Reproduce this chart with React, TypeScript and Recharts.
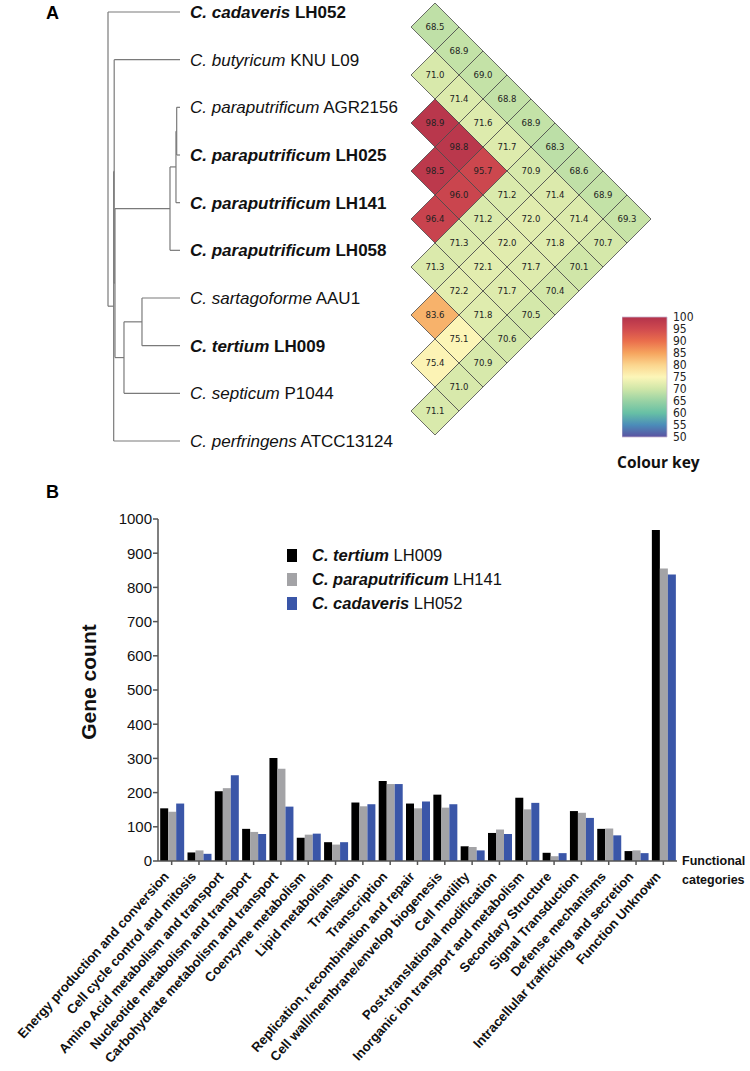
import React from "react";
import {
  ComposedChart,
  ScatterChart,
  Scatter,
  BarChart,
  Bar,
  XAxis,
  YAxis,
  ReferenceLine,
  Legend,
} from "recharts";

const FONT = "Arial, 'Liberation Sans', sans-serif";
const NARROW = "'Liberation Sans Narrow', 'DejaVu Sans Condensed', sans-serif";

// ---- panel A: species, tree, ANI ----
const speciesGenus = [
  "C. cadaveris",
  "C. butyricum",
  "C. paraputrificum",
  "C. paraputrificum",
  "C. paraputrificum",
  "C. paraputrificum",
  "C. sartagoforme",
  "C. tertium",
  "C. septicum",
  "C. perfringens",
];
const speciesStrain = ["LH052", "KNU L09", "AGR2156", "LH025", "LH141", "LH058", "AAU1", "LH009", "P1044", "ATCC13124"];
const speciesBold = [true, false, false, true, true, true, false, true, false, false];

// internal nodes: [childA, childB, depth from root (0) to tips (1)]; numbers are leaf indices
const treeNodes: [string | number, string | number, number][] = [
  [2, 3, 0.954], // P1
  ["P1", 4, 0.944], // P2
  ["P2", 5, 0.861], // P3
  [6, 7, 0.472], // T1
  ["T1", 8, 0.222], // T2
  ["P3", "T2", 0.097], // N3
  [1, "N3", 0.086], // N2
  ["N2", 9, 0.079], // N1
  [0, "N1", 0], // root
];
const treeNodeIds = ["P1", "P2", "P3", "T1", "T2", "N3", "N2", "N1", "root"];

// ANI, upper triangle: aniRows[i][k] is species i vs species i+k+1
const aniRows = [
  [68.5, 68.9, 69.0, 68.8, 68.9, 68.3, 68.6, 68.9, 69.3],
  [71.0, 71.4, 71.6, 71.7, 70.9, 71.4, 71.4, 70.7],
  [98.9, 98.8, 95.7, 71.2, 72.0, 71.8, 70.1],
  [98.5, 96.0, 71.2, 72.0, 71.7, 70.4],
  [96.4, 71.3, 72.1, 71.7, 70.5],
  [71.3, 72.2, 71.8, 70.6],
  [83.6, 75.1, 70.9],
  [75.4, 71.0],
  [71.1],
];

const keyValues = [100, 95, 90, 85, 80, 75, 70, 65, 60, 55, 50];
const keyColors = ["#b3324b", "#d04a4f", "#ea6e4c", "#f6a45e", "#fbd58e", "#fcf6b8", "#cfe6a8", "#98d2a4", "#67c0a5", "#4b8cb9", "#5b52a1"];

// ---- panel B: COG categories ----
const categories = [
  "Energy production and conversion",
  "Cell cycle control and mitosis",
  "Amino Acid metabolism and transport",
  "Nucleotide metabolism and transport",
  "Carbohydrate metabolism and transport",
  "Coenzyme metabolism",
  "Lipid metabolism",
  "Tranlsation",
  "Transcription",
  "Replication, recombination and repair",
  "Cell wall/membrane/envelop biogenesis",
  "Cell motility",
  "Post-translational modification",
  "Inorganic ion transport and metabolism",
  "Secondary Structure",
  "Signal Transduction",
  "Defense mechanisms",
  "Intracellular trafficking and secretion",
  "Function Unknown",
];
const tertium = [154, 25, 204, 94, 301, 68, 55, 171, 234, 168, 194, 43, 82, 185, 24, 146, 94, 29, 968];
const paraputrificum = [144, 31, 213, 85, 270, 77, 48, 160, 225, 154, 156, 41, 92, 151, 14, 141, 95, 31, 855];
const cadaveris = [168, 21, 251, 79, 159, 80, 55, 166, 225, 174, 166, 31, 79, 170, 23, 126, 75, 23, 838];
const geneTicks = [0, 100, 200, 300, 400, 500, 600, 700, 800, 900, 1000];

const barSeries = [
  { key: "tertium", genus: "C. tertium", strain: "LH009", color: "#000000" },
  { key: "paraputrificum", genus: "C. paraputrificum", strain: "LH141", color: "#a3a3a6" },
  { key: "cadaveris", genus: "C. cadaveris", strain: "LH052", color: "#3a56a8" },
];

const barData = categories.map((name, i) => ({
  name,
  tertium: tertium[i],
  paraputrificum: paraputrificum[i],
  cadaveris: cadaveris[i],
}));

function hexToRgb(h: string) {
  const n = parseInt(h.slice(1), 16);
  return [(n >> 16) & 255, (n >> 8) & 255, n & 255];
}

function aniColor(v: number) {
  for (let k = 0; k < keyValues.length - 1; k++) {
    const hi = keyValues[k];
    const lo = keyValues[k + 1];
    if (v <= hi && v >= lo) {
      const t = (hi - v) / (hi - lo);
      const a = hexToRgb(keyColors[k]);
      const b = hexToRgb(keyColors[k + 1]);
      const c = a.map((x, j) => Math.round(x + (b[j] - x) * t));
      return `rgb(${c[0]},${c[1]},${c[2]})`;
    }
  }
  return keyColors[0];
}

// heatmap cells: d = distance between species, s = i + j (diagonal position)
const heatCells = aniRows.flatMap((row, i) =>
  row.map((v, k) => ({ d: k + 1, s: 2 * i + k + 1, v }))
);

// dendrogram segments from the node list
function leafY(ref: string | number, ys: Record<string, number>) {
  return typeof ref === "number" ? ref : ys[ref];
}
function buildTree() {
  const ys: Record<string, number> = {};
  const depths: Record<string, number> = {};
  const segs: { x1: number; y1: number; x2: number; y2: number }[] = [];
  treeNodes.forEach(([a, b, depth], n) => {
    const ya = leafY(a, ys);
    const yb = leafY(b, ys);
    const id = treeNodeIds[n];
    ys[id] = (ya + yb) / 2;
    depths[id] = depth;
    segs.push({ x1: depth, y1: ya, x2: depth, y2: yb });
    [a, b].forEach((c) => {
      const cd = typeof c === "number" ? 1 : depths[c];
      const cy = leafY(c, ys);
      segs.push({ x1: depth, y1: cy, x2: cd, y2: cy });
    });
  });
  return segs;
}
const treeSegs = buildTree();
const leafPoints = speciesStrain.map((_, k) => ({ x: 1, y: k }));

const HEAT_W = 260;
const HEAT_M = { top: 27, right: 33, bottom: 39, left: 35 };
const HEAT_UNIT = (HEAT_W - HEAT_M.left - HEAT_M.right) / 8;

function SpeciesTick(props: any) {
  const { x, y, payload } = props;
  const k = payload.value;
  const b = speciesBold[k];
  return (
    <text x={x} y={y} dy="0.36em" fontSize={17} fontFamily={FONT} fill="#111">
      <tspan fontStyle="italic" fontWeight={b ? "bold" : "normal"}>{speciesGenus[k]}</tspan>
      <tspan fontWeight={b ? "bold" : "normal"}> {speciesStrain[k]}</tspan>
    </text>
  );
}

function Diamond(props: any) {
  const { cx, cy, payload } = props;
  const u = HEAT_UNIT;
  const pts = `${cx - u},${cy} ${cx},${cy - u} ${cx + u},${cy} ${cx},${cy + u}`;
  return (
    <g>
      <polygon points={pts} fill={aniColor(payload.v)} stroke="#4a4a4a" strokeWidth={0.8} />
      <text x={cx} y={cy} dy="0.35em" textAnchor="middle" fontSize={9.5} fontFamily={NARROW} fill="#222">
        {payload.v.toFixed(1)}
      </text>
    </g>
  );
}

function CategoryTick(props: any) {
  const { x, y, payload } = props;
  return (
    <g transform={`translate(${x - 2},${y + 10})`}>
      <text textAnchor="end" transform="rotate(-48)" fontSize={13.2} fontWeight="bold" fontFamily={FONT} fill="#111">
        {payload.value}
      </text>
    </g>
  );
}

function BarLegend() {
  return (
    <div style={{ fontFamily: FONT, fontSize: 16.5, color: "#111" }}>
      {barSeries.map((s) => (
        <div key={s.key} style={{ display: "flex", alignItems: "center", height: 24 }}>
          <span style={{ width: 10, height: 13, background: s.color, display: "inline-block", marginRight: 15 }} />
          <span>
            <b><i>{s.genus}</i></b> {s.strain}
          </span>
        </div>
      ))}
    </div>
  );
}

export default function App() {
  return (
    <div style={{ position: "absolute", left: 0, top: 0, width: 750, height: 1071, background: "#fff", fontFamily: FONT }}>
      <div style={{ position: "absolute", left: 46, top: 3, fontSize: 18, fontWeight: "bold" }}>A</div>
      <div style={{ position: "absolute", left: 46, top: 482, fontSize: 18, fontWeight: "bold" }}>B</div>

      <div style={{ position: "absolute", left: 100, top: 0 }}>
        <ComposedChart width={420} height={480} margin={{ top: 12, right: 0, bottom: 39, left: 8 }}>
          <XAxis type="number" dataKey="x" domain={[0, 1]} hide />
          <YAxis
            type="number"
            dataKey="y"
            orientation="right"
            width={340}
            domain={[0, 9]}
            reversed
            ticks={speciesStrain.map((_, k) => k)}
            axisLine={false}
            tickLine={false}
            tickMargin={4}
            tick={<SpeciesTick />}
            interval={0}
          />
          <Scatter data={leafPoints} fill="none" shape={() => <g />} isAnimationActive={false} />
          {treeSegs.map((s, i) => (
            <ReferenceLine
              key={i}
              segment={[
                { x: s.x1, y: s.y1 },
                { x: s.x2, y: s.y2 },
              ]}
              stroke="#7a7a7a"
              strokeWidth={1.2}
              ifOverflow="visible"
            />
          ))}
        </ComposedChart>
      </div>

      <div style={{ position: "absolute", left: 400, top: 0 }}>
        <ScatterChart width={HEAT_W} height={450} margin={HEAT_M}>
          <XAxis type="number" dataKey="d" domain={[1, 9]} hide />
          <YAxis type="number" dataKey="s" domain={[1, 17]} reversed hide />
          <Scatter data={heatCells} shape={<Diamond />} isAnimationActive={false} />
        </ScatterChart>
      </div>

      <div style={{ position: "absolute", left: 622, top: 305 }}>
        <BarChart width={80} height={144} data={[{ name: "key", range: [50, 100] }]} margin={{ top: 12, right: 0, bottom: 12, left: 0 }} barCategoryGap={0}>
          <defs>
            <linearGradient id="spectral" x1="0" y1="0" x2="0" y2="1">
              {keyValues.map((v, k) => (
                <stop key={v} offset={`${(k / (keyValues.length - 1)) * 100}%`} stopColor={keyColors[k]} />
              ))}
            </linearGradient>
          </defs>
          <XAxis dataKey="name" hide />
          <YAxis
            orientation="right"
            width={35}
            domain={[50, 100]}
            ticks={keyValues}
            interval={0}
            axisLine={false}
            tickLine={false}
            tickMargin={0}
            tick={{ fontSize: 12, fontFamily: NARROW, fill: "#222", textAnchor: "start" }}
          />
          <Bar dataKey="range" fill="url(#spectral)" stroke="#c9b6cf" strokeWidth={0.8} isAnimationActive={false} />
        </BarChart>
      </div>
      <div style={{ position: "absolute", left: 617, top: 451, fontSize: 15.5, fontWeight: "bold", fontFamily: "'Open Sans', sans-serif", color: "#111" }}>
        Colour key
      </div>

      <div style={{ position: "absolute", left: 0, top: 500 }}>
        <BarChart
          width={750}
          height={571}
          data={barData}
          margin={{ top: 19, right: 73, bottom: 0, left: 58 }}
          barCategoryGap="8%"
          barGap={0}
        >
          <XAxis
            dataKey="name"
            height={210}
            interval={0}
            tick={<CategoryTick />}
            tickSize={4}
            stroke="#555"
            strokeWidth={1.5}
            label={(p: any) => {
              const vb = p.viewBox;
              return (
                <text x={vb.x + vb.width + 5} y={vb.y} fontSize={12.5} fontWeight="bold" fontFamily={FONT} fill="#111">
                  <tspan x={vb.x + vb.width + 5} dy="0.35em">Functional</tspan>
                  <tspan x={vb.x + vb.width + 5} dy="1.45em">categories</tspan>
                </text>
              );
            }}
          />
          <YAxis
            width={100}
            domain={[0, 1000]}
            ticks={geneTicks}
            interval={0}
            tickSize={5}
            tickMargin={1}
            stroke="#555"
            strokeWidth={1.5}
            tick={{ fontSize: 15, fontFamily: FONT, fill: "#111" }}
            label={(p: any) => {
              const vb = p.viewBox;
              const cx = vb.x + 38;
              const cy = vb.y + vb.height / 2 - 8;
              return (
                <text x={cx} y={cy} transform={`rotate(-90, ${cx}, ${cy})`} textAnchor="middle" fontSize={21} fontWeight="bold" fontFamily={FONT} fill="#111">
                  Gene count
                </text>
              );
            }}
          />
          <Legend
            layout="vertical"
            align="center"
            verticalAlign="middle"
            content={<BarLegend />}
            wrapperStyle={{ left: 287, top: 43, width: 260 }}
          />
          {barSeries.map((s) => (
            <Bar key={s.key} dataKey={s.key} fill={s.color} isAnimationActive={false} />
          ))}
        </BarChart>
      </div>
    </div>
  );
}
